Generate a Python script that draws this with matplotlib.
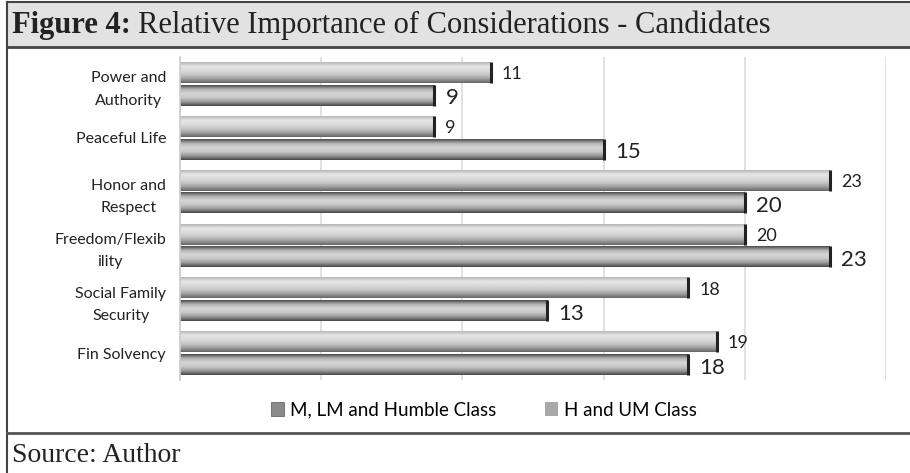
"""
Figure 4: Relative Importance of Considerations - Candidates
"""

import matplotlib.pyplot as plt
import numpy as np
from matplotlib.patches import Rectangle
from matplotlib.lines import Line2D

categories = [
    "Power and\nAuthority",
    "Peaceful Life",
    "Honor and\nRespect",
    "Freedom/Flexib\nility",
    "Social Family\nSecurity",
    "Fin Solvency",
]
h_um_class = [11, 9, 23, 20, 18, 19]
m_lm_humble = [9, 15, 20, 23, 13, 18]
series_names = ["M, LM and Humble Class", "H and UM Class"]

SANS = ["Lato", "DejaVu Sans"]
SERIF = ["Liberation Serif", "DejaVu Serif"]


def gradient_bar(ax, y, width, height, shades):
    # vertical shading for one bar, clipped to its rectangle
    rect = Rectangle((0, y - height / 2), width, height, facecolor="none", edgecolor="none")
    ax.add_patch(rect)
    grad = np.interp(np.linspace(0, 1, 64), np.linspace(0, 1, len(shades)), shades)
    img = ax.imshow(grad[:, None], cmap="gray", vmin=0, vmax=1, aspect="auto",
                    extent=(0, width, y + height / 2, y - height / 2), zorder=2,
                    interpolation="bilinear")
    img.set_clip_path(rect)
    ax.plot([width, width], [y - height / 2, y + height / 2], color="#222222", lw=2.2,
            zorder=3, solid_capstyle="butt")


fig = plt.figure(figsize=(9.1, 4.73), dpi=100)

# frame, title band and source band
fig.patches.append(Rectangle((7 / 910, 425 / 473), 903 / 910, 46 / 473,
                             transform=fig.transFigure, facecolor="#e2e2e2",
                             edgecolor="none", zorder=0))
fig.lines.append(Line2D([7 / 910, 7 / 910], [0, 471 / 473], transform=fig.transFigure,
                        color="#444444", lw=1.5))
fig.lines.append(Line2D([7 / 910, 1], [471 / 473, 471 / 473], transform=fig.transFigure,
                        color="#444444", lw=1.5))
fig.lines.append(Line2D([7 / 910, 1], [426 / 473, 426 / 473], transform=fig.transFigure,
                        color="#444444", lw=2))
fig.lines.append(Line2D([7 / 910, 1], [40 / 473, 40 / 473], transform=fig.transFigure,
                        color="#555555", lw=2))

t1 = fig.text(12 / 910, 440 / 473, "Figure 4:", fontsize=22, fontweight="bold",
              family=SERIF, va="baseline", ha="left", color="#222222")
fig.canvas.draw()
bb = t1.get_window_extent()
fig.text((bb.x1 + 7) / 910, 440 / 473, "Relative Importance of Considerations - Candidates",
         fontsize=22, family=SERIF, va="baseline", ha="left", color="#222222")
fig.text(12 / 910, 11 / 473, "Source: Author", fontsize=20, family=SERIF,
         va="baseline", ha="left", color="#222222")

ax = fig.add_axes([180 / 910, 93 / 473, 706 / 910, 323 / 473])

pos = np.arange(len(categories))
bh = 0.39
off = 0.21
upper_shades = [0.72, 0.90, 0.86, 0.78, 0.62, 0.40]
lower_shades = [0.30, 0.70, 0.84, 0.78, 0.60, 0.28]
for i in pos:
    gradient_bar(ax, i - off, h_um_class[i], bh, upper_shades)
    gradient_bar(ax, i + off, m_lm_humble[i], bh, lower_shades)
    ax.text(h_um_class[i] + 0.4, i - off + 0.03, str(h_um_class[i]), va="center",
            ha="left", fontsize=13, family=SANS, color="#222222")
    ax.text(m_lm_humble[i] + 0.4, i + off + 0.06, str(m_lm_humble[i]), va="center",
            ha="left", fontsize=16, family=SANS, color="#222222")

ax.set_xlim(0, 25)
ax.set_ylim(len(categories) - 0.5, -0.5)
ax.set_xticks(np.arange(0, 26, 5))
ax.grid(axis="x", color="#dcdcdc", lw=1.2)
ax.set_axisbelow(True)
ax.tick_params(axis="x", length=0, labelbottom=False)
ax.tick_params(axis="y", length=0, pad=10)
ax.set_yticks(pos)
ax.set_yticklabels(categories, fontsize=11.5, family=SANS, color="#222222",
                   multialignment="center", linespacing=1.75)
for s in ["top", "right", "bottom"]:
    ax.spines[s].set_visible(False)
ax.spines["left"].set_color("#cccccc")
ax.spines["left"].set_linewidth(1.2)

# legend
handles = [
    Rectangle((0, 0), 1, 1, facecolor="#8a8a8a", edgecolor="#555555", lw=0.5),
    Rectangle((0, 0), 1, 1, facecolor="#a8a8a8", edgecolor="none"),
]
fig.legend(handles, series_names, loc="center", bbox_to_anchor=(484 / 910, 63 / 473),
           ncol=2, frameon=False, prop={"family": SANS, "size": 13.5},
           handlelength=0.7, handleheight=0.7, handletextpad=0.3, columnspacing=2.6)

fig.savefig("out.png", dpi=100)
